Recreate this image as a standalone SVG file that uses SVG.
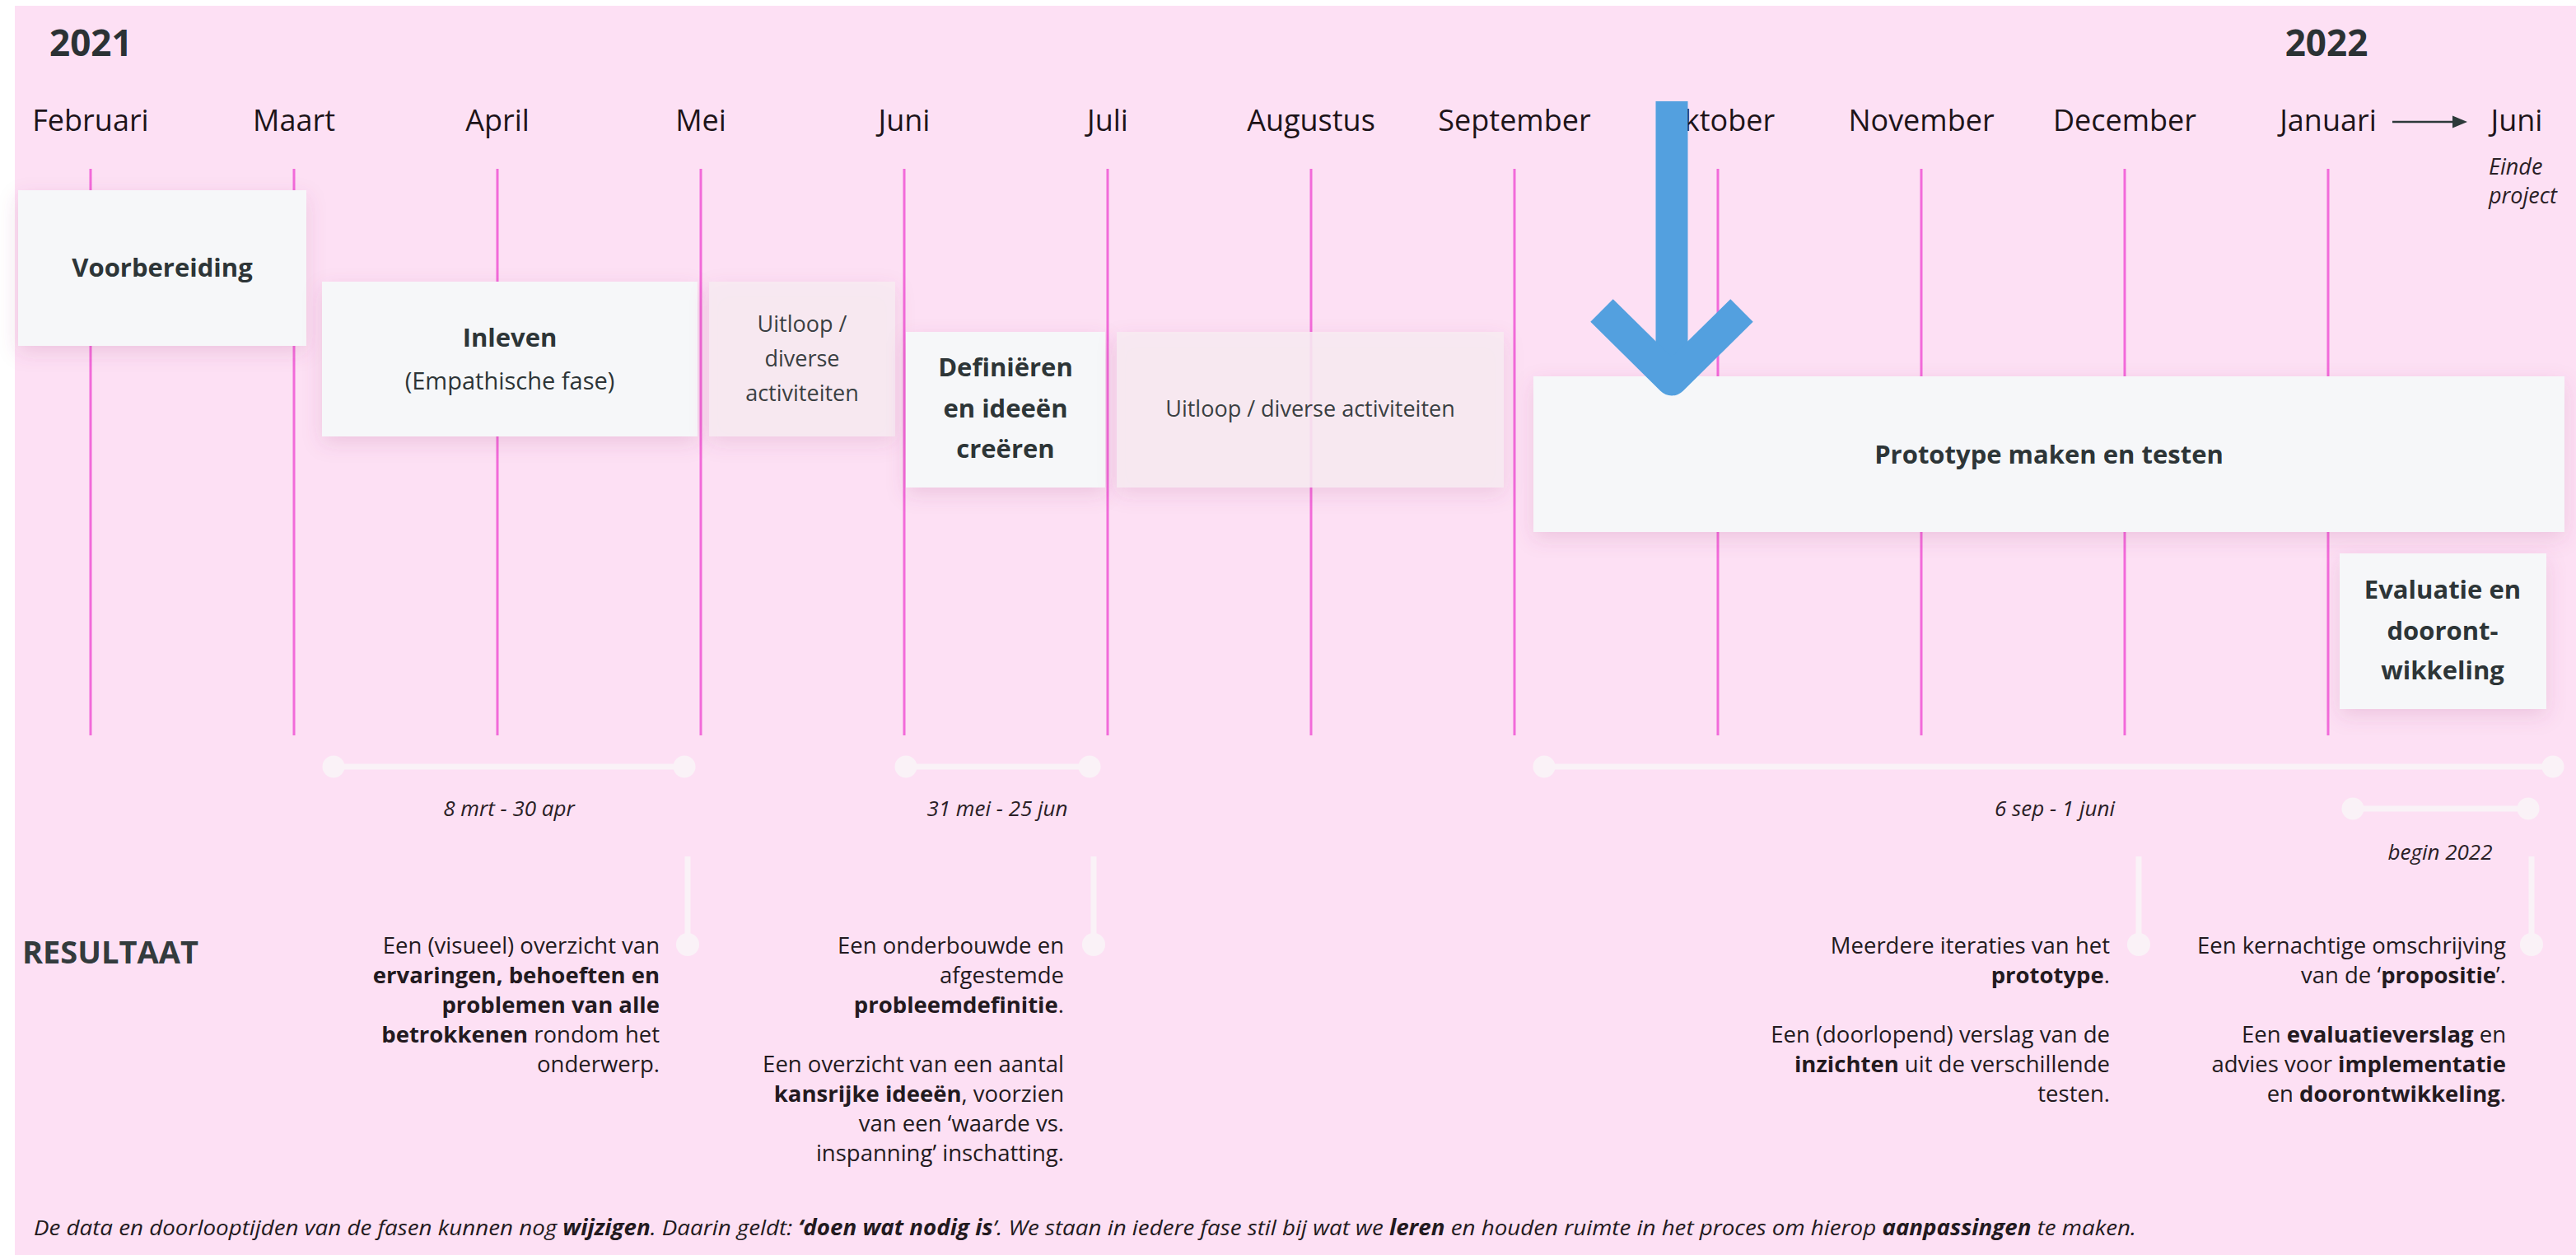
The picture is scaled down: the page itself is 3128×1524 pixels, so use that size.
<svg xmlns="http://www.w3.org/2000/svg" width="3128" height="1524" viewBox="0 0 3128 1524">
<defs>
<filter id="sh" x="-20%" y="-30%" width="140%" height="170%">
<feDropShadow dx="0" dy="8" stdDeviation="12" flood-color="#9a3a70" flood-opacity="0.16"/>
</filter>
<style>
text{font-family:"Open Sans","Noto Sans","Liberation Sans",sans-serif;}
.yr{font-size:44px;font-weight:700;fill:#2b3234;}
.mo{font-size:36px;fill:#1d1419;text-anchor:middle;}
.ml{stroke:#f26ad9;stroke-width:3;}
.box{fill:#f6f7f9;filter:url(#sh);}
.ubox{fill:#f7ebf1;fill-opacity:0.88;filter:url(#sh);}
.bt{font-size:31px;font-weight:700;fill:#2d3537;text-anchor:middle;}
.rt{font-size:29px;fill:#2d3537;text-anchor:middle;}
.ut{font-size:27px;fill:#3a3f42;text-anchor:middle;}
.bar{stroke:#faf2f7;stroke-width:7;}
.dot{fill:#faf2f7;}
.dt{font-size:26px;font-style:italic;fill:#2a2026;text-anchor:middle;}
.ep{font-size:27px;font-style:italic;fill:#2a2026;text-anchor:start;}
.res{font-size:27.5px;fill:#231a20;text-anchor:end;}
.b{font-weight:700;}
.ft{font-size:26px;font-style:italic;fill:#231a20;}
</style>
</defs>
<rect x="0" y="0" width="3128" height="1524" fill="#ffffff"/>
<rect x="18" y="7" width="3110" height="1517" fill="#fde0f4"/>

<g id="years">
<text class="yr" x="60" y="68">2021</text>
<text class="yr" x="2825" y="68" text-anchor="middle">2022</text>
</g>

<g id="months">
<text class="mo" x="110" y="159">Februari</text>
<text class="mo" x="357" y="159">Maart</text>
<text class="mo" x="604" y="159">April</text>
<text class="mo" x="851" y="159">Mei</text>
<text class="mo" x="1098" y="159">Juni</text>
<text class="mo" x="1345" y="159">Juli</text>
<text class="mo" x="1592" y="159">Augustus</text>
<text class="mo" x="1839" y="159">September</text>
<text class="mo" x="2086" y="159">Oktober</text>
<text class="mo" x="2333" y="159">November</text>
<text class="mo" x="2580" y="159">December</text>
<text class="mo" x="2827" y="159">Januari</text>
<text class="mo" x="3056" y="159">Juni</text>
<line x1="2905" y1="148" x2="2982" y2="148" stroke="#2d3a3a" stroke-width="2.5"/>
<polygon points="2978,140.5 2996,148 2978,155.5" fill="#2d3a3a"/>
<text class="ep" x="3022" y="212">Einde</text>
<text class="ep" x="3022" y="247">project</text>
</g>

<g id="month-lines">
<line class="ml" x1="110" y1="205" x2="110" y2="893"/>
<line class="ml" x1="357" y1="205" x2="357" y2="893"/>
<line class="ml" x1="604" y1="205" x2="604" y2="893"/>
<line class="ml" x1="851" y1="205" x2="851" y2="893"/>
<line class="ml" x1="1098" y1="205" x2="1098" y2="893"/>
<line class="ml" x1="1345" y1="205" x2="1345" y2="893"/>
<line class="ml" x1="1592" y1="205" x2="1592" y2="893"/>
<line class="ml" x1="1839" y1="205" x2="1839" y2="893"/>
<line class="ml" x1="2086" y1="205" x2="2086" y2="893"/>
<line class="ml" x1="2333" y1="205" x2="2333" y2="893"/>
<line class="ml" x1="2580" y1="205" x2="2580" y2="893"/>
<line class="ml" x1="2827" y1="205" x2="2827" y2="893"/>
</g>

<g id="voorbereiding">
<rect class="box" x="22" y="231" width="350" height="189"/>
<text class="bt" x="197" y="336">Voorbereiding</text>
</g>
<g id="inleven">
<rect class="box" x="391" y="342" width="456" height="188"/>
<text class="bt" x="619" y="421">Inleven</text>
<text class="rt" x="619" y="473">(Empathische fase)</text>
</g>
<g id="uitloop1">
<rect class="ubox" x="861" y="342" width="226" height="188"/>
<text class="ut" x="974" y="403">Uitloop /</text>
<text class="ut" x="974" y="445">diverse</text>
<text class="ut" x="974" y="487">activiteiten</text>
</g>
<g id="definieren">
<rect class="box" x="1100" y="403" width="242" height="189"/>
<text class="bt" x="1221" y="457">Definiëren</text>
<text class="bt" x="1221" y="507">en ideeën</text>
<text class="bt" x="1221" y="556">creëren</text>
</g>
<g id="uitloop2">
<rect class="ubox" x="1356" y="403" width="470" height="189"/>
<text class="ut" x="1591" y="506">Uitloop / diverse activiteiten</text>
</g>
<g id="prototype">
<rect class="box" x="1862" y="457" width="1252" height="189"/>
<text class="bt" x="2488" y="563">Prototype maken en testen</text>
</g>
<g id="evaluatie">
<rect class="box" x="2841" y="672" width="251" height="189"/>
<text class="bt" x="2966" y="727">Evaluatie en</text>
<text class="bt" x="2966" y="777">dooront-</text>
<text class="bt" x="2966" y="825">wikkeling</text>
</g>

<g id="blue-arrow">
<line x1="2030" y1="123" x2="2030" y2="455" stroke="#53a0df" stroke-width="39"/>
<polyline points="1945,377 2030,461 2115,377" fill="none" stroke="#53a0df" stroke-width="39" stroke-linejoin="round"/>
</g>

<g id="connectors">
<line class="bar" x1="405" y1="931" x2="831" y2="931"/>
<circle class="dot" cx="405" cy="931" r="13.5"/>
<circle class="dot" cx="831" cy="931" r="13.5"/>
<line class="bar" x1="1100" y1="931" x2="1323" y2="931"/>
<circle class="dot" cx="1100" cy="931" r="13.5"/>
<circle class="dot" cx="1323" cy="931" r="13.5"/>
<line class="bar" x1="1875" y1="931" x2="3100" y2="931"/>
<circle class="dot" cx="1875" cy="931" r="13.5"/>
<circle class="dot" cx="3100" cy="931" r="13.5"/>
<line class="bar" x1="2857" y1="982" x2="3070" y2="982"/>
<circle class="dot" cx="2857" cy="982" r="13.5"/>
<circle class="dot" cx="3070" cy="982" r="13.5"/>
<line class="bar" x1="835" y1="1040" x2="835" y2="1147" stroke-width="6"/>
<circle class="dot" cx="835" cy="1147" r="14"/>
<line class="bar" x1="1328" y1="1040" x2="1328" y2="1147" stroke-width="6"/>
<circle class="dot" cx="1328" cy="1147" r="14"/>
<line class="bar" x1="2597" y1="1040" x2="2597" y2="1147" stroke-width="6"/>
<circle class="dot" cx="2597" cy="1147" r="14"/>
<line class="bar" x1="3074" y1="1040" x2="3074" y2="1147" stroke-width="6"/>
<circle class="dot" cx="3074" cy="1147" r="14"/>
</g>

<g id="dates">
<text class="dt" x="618" y="991">8 mrt - 30 apr</text>
<text class="dt" x="1211" y="991">31 mei - 25 jun</text>
<text class="dt" x="2495" y="991">6 sep - 1 juni</text>
<text class="dt" x="2963" y="1044">begin 2022</text>
</g>

<g id="resultaat">
<text x="27" y="1170" style="font-size:38px;font-weight:700;fill:#333b3d">RESULTAAT</text>
</g>

<g id="result1">
<text class="res" x="801" y="1158">Een (visueel) overzicht van</text>
<text class="res" x="801" y="1194"><tspan class="b">ervaringen, behoeften en</tspan></text>
<text class="res" x="801" y="1230"><tspan class="b">problemen van alle</tspan></text>
<text class="res" x="801" y="1266"><tspan class="b">betrokkenen</tspan> rondom het</text>
<text class="res" x="801" y="1302">onderwerp.</text>
</g>
<g id="result2">
<text class="res" x="1292" y="1158">Een onderbouwde en</text>
<text class="res" x="1292" y="1194">afgestemde</text>
<text class="res" x="1292" y="1230"><tspan class="b">probleemdefinitie</tspan>.</text>
<text class="res" x="1292" y="1302">Een overzicht van een aantal</text>
<text class="res" x="1292" y="1338"><tspan class="b">kansrijke ideeën</tspan>, voorzien</text>
<text class="res" x="1292" y="1374">van een ‘waarde vs.</text>
<text class="res" x="1292" y="1410">inspanning’ inschatting.</text>
</g>
<g id="result3">
<text class="res" x="2562" y="1158">Meerdere iteraties van het</text>
<text class="res" x="2562" y="1194"><tspan class="b">prototype</tspan>.</text>
<text class="res" x="2562" y="1266">Een (doorlopend) verslag van de</text>
<text class="res" x="2562" y="1302"><tspan class="b">inzichten</tspan> uit de verschillende</text>
<text class="res" x="2562" y="1338">testen.</text>
</g>
<g id="result4">
<text class="res" x="3043" y="1158">Een kernachtige omschrijving</text>
<text class="res" x="3043" y="1194">van de ‘<tspan class="b">propositie</tspan>’.</text>
<text class="res" x="3043" y="1266">Een <tspan class="b">evaluatieverslag</tspan> en</text>
<text class="res" x="3043" y="1302">advies voor <tspan class="b">implementatie</tspan></text>
<text class="res" x="3043" y="1338">en <tspan class="b">doorontwikkeling</tspan>.</text>
</g>

<g id="footer">
<text class="ft" x="41" y="1500" textLength="2553" lengthAdjust="spacingAndGlyphs">De data en doorlooptijden van de fasen kunnen nog <tspan class="b">wijzigen</tspan>. Daarin geldt: <tspan class="b">‘doen wat nodig is</tspan>’. We staan in iedere fase stil bij wat we <tspan class="b">leren</tspan> en houden ruimte in het proces om hierop <tspan class="b">aanpassingen</tspan> te maken.</text>
</g>
</svg>
